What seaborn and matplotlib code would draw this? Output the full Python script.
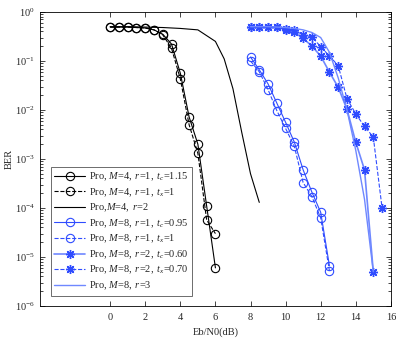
import numpy as np
import pandas as pd
import matplotlib
matplotlib.use("Agg")
import matplotlib.pyplot as plt
import seaborn as sns
from matplotlib.ticker import LogLocator, NullFormatter

# ---- data ----
x_m4 = [0, 0.5, 1, 1.5, 2, 2.5, 3, 3.5, 4, 4.5, 5, 5.5, 6]
ber_m4_r1_tc = [0.49, 0.49, 0.49, 0.48, 0.47, 0.43, 0.35, 0.22, 0.056, 0.0072, 0.0020, 1.1e-4, 6e-6]
ber_m4_r1_tx = [0.49, 0.49, 0.49, 0.48, 0.47, 0.43, 0.34, 0.18, 0.043, 0.0050, 0.0013, 5.7e-5, 3e-5]

x_m4_r2 = [0, 1, 2, 3, 4, 5, 6, 6.5, 7, 7.5, 8, 8.5]
ber_m4_r2 = [0.5, 0.5, 0.49, 0.48, 0.46, 0.43, 0.25, 0.11, 0.027, 0.0035, 5e-4, 1.3e-4]

x_m8_r1 = [8, 8.5, 9, 9.5, 10, 10.5, 11, 11.5, 12, 12.5]
ber_m8_r1_tc = [0.12, 0.066, 0.034, 0.0138, 0.0056, 0.0022, 6.0e-4, 2.1e-4, 8.2e-5, 6.6e-6]
ber_m8_r1_tx = [0.10, 0.060, 0.026, 0.0097, 0.0042, 0.0018, 3.3e-4, 1.7e-4, 6.3e-5, 5.2e-6]

x_m8_r2_tc = [8, 8.5, 9, 9.5, 10, 10.5, 11, 11.5, 12, 12.5, 13, 13.5, 14, 14.5, 15]
ber_m8_r2_tc = [0.5, 0.5, 0.5, 0.49, 0.43, 0.38, 0.29, 0.20, 0.126, 0.059, 0.029, 0.0103, 0.0022, 6e-4, 5e-6]
x_m8_r2_tx = [8, 8.5, 9, 9.5, 10, 10.5, 11, 11.5, 12, 12.5, 13, 13.5, 14, 14.5, 15, 15.5]
ber_m8_r2_tx = [0.5, 0.5, 0.5, 0.49, 0.45, 0.42, 0.34, 0.31, 0.195, 0.126, 0.08, 0.017, 0.0083, 0.0046, 0.0028, 1.0e-4]

x_m8_r3 = [8, 9, 10, 10.5, 11, 11.5, 12, 12.5, 13, 13.5, 14, 14.5, 15]
ber_m8_r3 = [0.5, 0.5, 0.48, 0.46, 0.43, 0.38, 0.30, 0.15, 0.045, 0.010, 0.0015, 1.5e-4, 5e-6]

labels = [
    r"Pro, $\mathit{M}$=$\mathit{4,}$ $\mathit{r}$=$\mathit{1,}$ $\mathit{t_c}$=$\mathit{1.15}$",
    r"Pro, $\mathit{M}$=$\mathit{4,}$ $\mathit{r}$=$\mathit{1,}$ $\mathit{t_x}$=$\mathit{1}$",
    r"Pro,$\mathit{M}$=$\mathit{4,}$ $\mathit{r}$=$\mathit{2}$",
    r"Pro, $\mathit{M}$=$\mathit{8,}$ $\mathit{r}$=$\mathit{1,}$ $\mathit{t_c}$=$\mathit{0.95}$",
    r"Pro, $\mathit{M}$=$\mathit{8,}$ $\mathit{r}$=$\mathit{1,}$ $\mathit{t_x}$=$\mathit{1}$",
    r"Pro, $\mathit{M}$=$\mathit{8,}$ $\mathit{r}$=$\mathit{2,}$ $\mathit{t_c}$=$\mathit{0.60}$",
    r"Pro, $\mathit{M}$=$\mathit{8,}$ $\mathit{r}$=$\mathit{2,}$ $\mathit{t_x}$=$\mathit{0.70}$",
    r"Pro, $\mathit{M}$=$\mathit{8,}$ $\mathit{r}$=$\mathit{3}$",
]

# ---- style ----
sns.set_style("ticks")
plt.rcParams["font.family"] = ["Liberation Serif", "DejaVu Serif"]
plt.rcParams["mathtext.fontset"] = "custom"
plt.rcParams["mathtext.rm"] = "Liberation Serif"
plt.rcParams["mathtext.it"] = "Liberation Serif:italic"
plt.rcParams["mathtext.bf"] = "Liberation Serif:bold"
plt.rcParams["font.size"] = 7.5

blue = "#2f4cff"
lblue = "#6f88ff"
black = "black"

fig = plt.figure(figsize=(3.98, 3.40), dpi=100)
ax = fig.add_axes([0.1005, 0.1, 0.8815, 0.865])

asterisk = (8, 2, 0)
common = dict(ax=ax, estimator=None, sort=False)

sns.lineplot(x=x_m4, y=ber_m4_r1_tc, color=black, lw=0.8, marker="o", ms=6,
             markerfacecolor="none", markeredgecolor=black, markeredgewidth=0.8,
             label=labels[0], **common)
sns.lineplot(x=x_m4, y=ber_m4_r1_tx, color=black, lw=0.8, ls="--", marker="o", ms=6,
             markerfacecolor="none", markeredgecolor=black, markeredgewidth=0.8,
             label=labels[1], **common)
sns.lineplot(x=x_m4_r2, y=ber_m4_r2, color=black, lw=0.8, label=labels[2], **common)
sns.lineplot(x=x_m8_r1, y=ber_m8_r1_tc, color=blue, lw=0.8, marker="o", ms=6,
             markerfacecolor="none", markeredgecolor=blue, markeredgewidth=0.8,
             label=labels[3], **common)
sns.lineplot(x=x_m8_r1, y=ber_m8_r1_tx, color=blue, lw=0.8, ls="--", marker="o", ms=6,
             markerfacecolor="none", markeredgecolor=blue, markeredgewidth=0.8,
             label=labels[4], **common)
sns.lineplot(x=x_m8_r2_tc, y=ber_m8_r2_tc, color=lblue, lw=1.2, marker=asterisk, ms=6.5,
             markeredgecolor=blue, markeredgewidth=1.0,
             label=labels[5], **common)
sns.lineplot(x=x_m8_r2_tx, y=ber_m8_r2_tx, color=blue, lw=0.8, ls="--", marker=asterisk, ms=6.5,
             markeredgecolor=blue, markeredgewidth=1.0,
             label=labels[6], **common)
sns.lineplot(x=x_m8_r3, y=ber_m8_r3, color=lblue, lw=1.0, label=labels[7], **common)

ax.set_yscale("log")
ax.set_ylim(1e-6, 1)
ax.set_xlim(-4, 16)
ax.set_xticks(np.arange(0, 17, 2))
ax.yaxis.set_major_locator(LogLocator(base=10, numticks=10))
ax.yaxis.set_minor_locator(LogLocator(base=10, subs=np.arange(2, 10), numticks=20))
ax.yaxis.set_minor_formatter(NullFormatter())
ax.tick_params(which="both", direction="in", top=True, right=True, labelsize=7.5, width=0.6)
ax.tick_params(which="major", length=3.5)
ax.tick_params(axis="x", which="major", pad=5)
ax.tick_params(which="minor", length=2)
for s in ax.spines.values():
    s.set_linewidth(0.6)
    s.set_color("black")
ax.set_xlabel("Eb/N0(dB)", fontsize=7.5, labelpad=4)
ax.set_ylabel("BER", fontsize=7.5, labelpad=1)

leg = ax.legend(loc="lower left", bbox_to_anchor=(0.03, 0.035), fontsize=7.5,
                handlelength=3.0, handletextpad=0.3, labelspacing=0.3,
                borderpad=0.35, borderaxespad=0, fancybox=False, framealpha=1,
                edgecolor="#555555")
leg.get_frame().set_linewidth(0.6)

fig.savefig("out.png", dpi=100)
